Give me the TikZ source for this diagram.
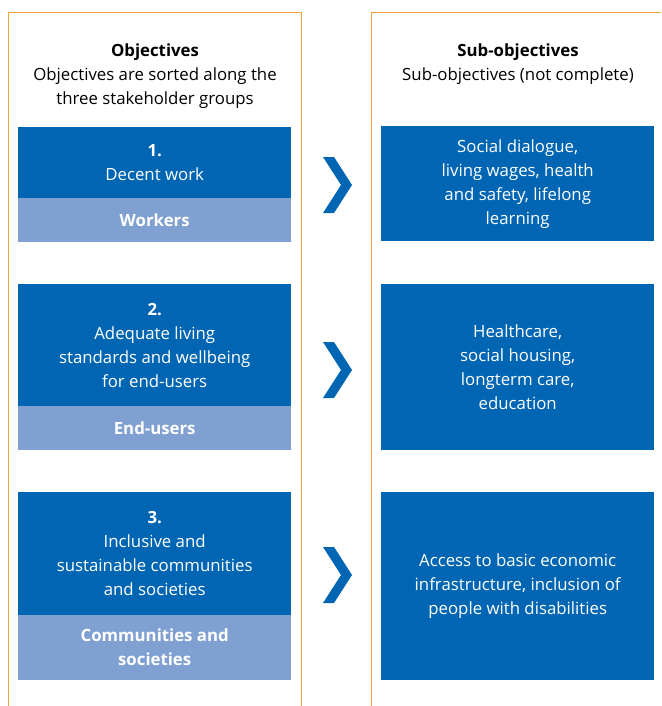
\documentclass[tikz,border=0pt]{standalone}
\usepackage{fontspec}
\setmainfont{Open Sans}
\usetikzlibrary{positioning}
\definecolor{boxblue}{RGB}{0,102,179}
\definecolor{grpblue}{RGB}{128,160,210}
\definecolor{frameorange}{RGB}{243,163,58}
\tikzset{
  frame/.style={draw=frameorange, line width=1pt},
  objbox/.style={fill=boxblue, text=white, minimum width=273pt, inner sep=0pt, align=center},
  grpbox/.style={fill=grpblue, text=white, minimum width=273pt, inner sep=0pt, align=center, font=\fontsize{16.8pt}{24pt}\selectfont\bfseries},
  subbox/.style={fill=boxblue, text=white, minimum width=273pt, inner sep=0pt, align=center},
  chev/.style={fill=boxblue}
}
\begin{document}
\begin{tikzpicture}[x=1pt,y=-1pt,font=\fontsize{16.8pt}{24pt}\selectfont]
\useasboundingbox (0,0) rectangle (661,706);
% frames
\draw[frame] (8,706) |- (301,13) -- (301,706);
\draw[frame] (371,706) |- (661,13);
% headings
\node[font=\fontsize{16.8pt}{24pt}\selectfont\bfseries] (objhead) at (155,52) {Objectives};
\node[align=center] (objnote) at (155,88) {Objectives are sorted along the\\three stakeholder groups};
\node[font=\fontsize{16.8pt}{24pt}\selectfont\bfseries] (subhead) at (518,52) {Sub-objectives};
\node[align=center] (subnote) at (518,76) {Sub-objectives (not complete)};
% objectives
\node[objbox, minimum height=71pt, anchor=north west] (obj1) at (18,127) {\textbf{1.}\\Decent work};
\node[grpbox, minimum height=44pt, below=-0.5pt of obj1] (workers) {Workers};
\node[objbox, minimum height=122pt, anchor=north west] (obj2) at (18,284) {\textbf{2.}\\Adequate living\\standards and wellbeing\\for end-users};
\node[grpbox, minimum height=44pt, below=-0.5pt of obj2] (endusers) {End-users};
\node[objbox, minimum height=123pt, anchor=north west] (obj3) at (18,492) {\textbf{3.}\\Inclusive and\\sustainable communities\\and societies};
\node[grpbox, minimum height=65pt, below=-0.5pt of obj3] (communities) {Communities and\\societies};
% sub-objectives
\node[subbox, minimum height=115pt, anchor=north west] (sub1) at (381,126) {Social dialogue,\\living wages, health\\and safety, lifelong\\learning};
\node[subbox, minimum height=166pt, anchor=north west] (sub2) at (381,284) {Healthcare,\\social housing,\\longterm care,\\education};
\node[subbox, minimum height=188pt, anchor=north west] (sub3) at (381,492) {Access to basic economic\\infrastructure, inclusion of\\people with disabilities};
% chevrons
\foreach \y in {185,370,575}
  \fill[chev, shift={(338,\y)}] (-15,-28) -- (-4,-28) -- (14,0) -- (-4,28) -- (-15,28) -- (3,0) -- cycle;
\end{tikzpicture}
\end{document}
